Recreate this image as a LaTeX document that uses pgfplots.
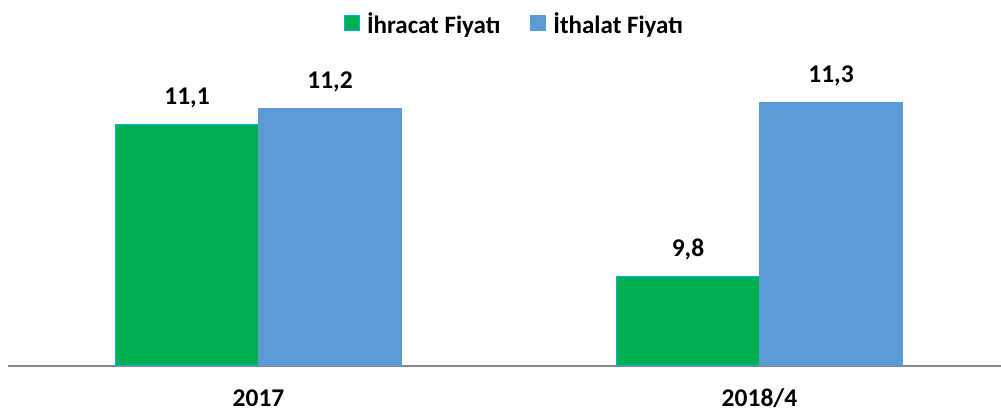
\documentclass[border=0pt]{standalone}
\usepackage{pgfplots}
\pgfplotsset{compat=1.18}
\usepackage{fontspec}
\setmainfont{Carlito}
\definecolor{cgreen}{HTML}{00B050}
\definecolor{ccyan}{HTML}{00B0F0}
\definecolor{cblue}{HTML}{5B9BD5}
\definecolor{cgray}{HTML}{868686}
\begin{document}
\begin{tikzpicture}[x=1pt,y=1pt]
\useasboundingbox (0,0) rectangle (1001,412);
\begin{axis}[
  at={(8pt,46pt)}, anchor=south west,
  scale only axis, width=993pt, height=306pt,
  xmin=-0.5, xmax=1.482, ymin=9.035, ymax=11.657,
  ybar=0pt, bar width=143pt,
  axis x line=bottom, axis y line=none,
  x axis line style={-, draw=cgray, line width=1.6pt},
  xtick={0,1}, xticklabels={2017,2018/4},
  major tick length=0pt,
  x tick label style={font=\fontsize{25.5}{30}\selectfont\bfseries, anchor=center, yshift=-32pt},
  ytick=\empty,
  point meta=explicit symbolic,
  nodes near coords,
  every node near coord/.append style={font=\fontsize{25.5}{30}\selectfont\bfseries, anchor=center, yshift=27pt, text=black},
  legend columns=2,
  legend style={at={(0.509,1)}, anchor=center, yshift=36pt, draw=none, fill=none,
    font=\fontsize{25}{30}\selectfont\bfseries, /tikz/every even column/.append style={column sep=26pt}},
  legend image code/.code={\path (-2pt,0) (20pt,0); \draw[#1] (0pt,-7pt) rectangle (15pt,8pt);},
  clip=false,
]
\addplot[fill=cgreen, draw=ccyan, line width=1pt] table[meta=lab] {
x y lab
0 11.1 {11,1}
1 9.8 {9,8}
};
\addplot[fill=cblue, draw=cblue, line width=1pt] table[meta=lab] {
x y lab
0 11.24 {11,2}
1 11.29 {11,3}
};
\legend{İhracat Fiyatı, İthalat Fiyatı}
\end{axis}
\end{tikzpicture}
\end{document}
